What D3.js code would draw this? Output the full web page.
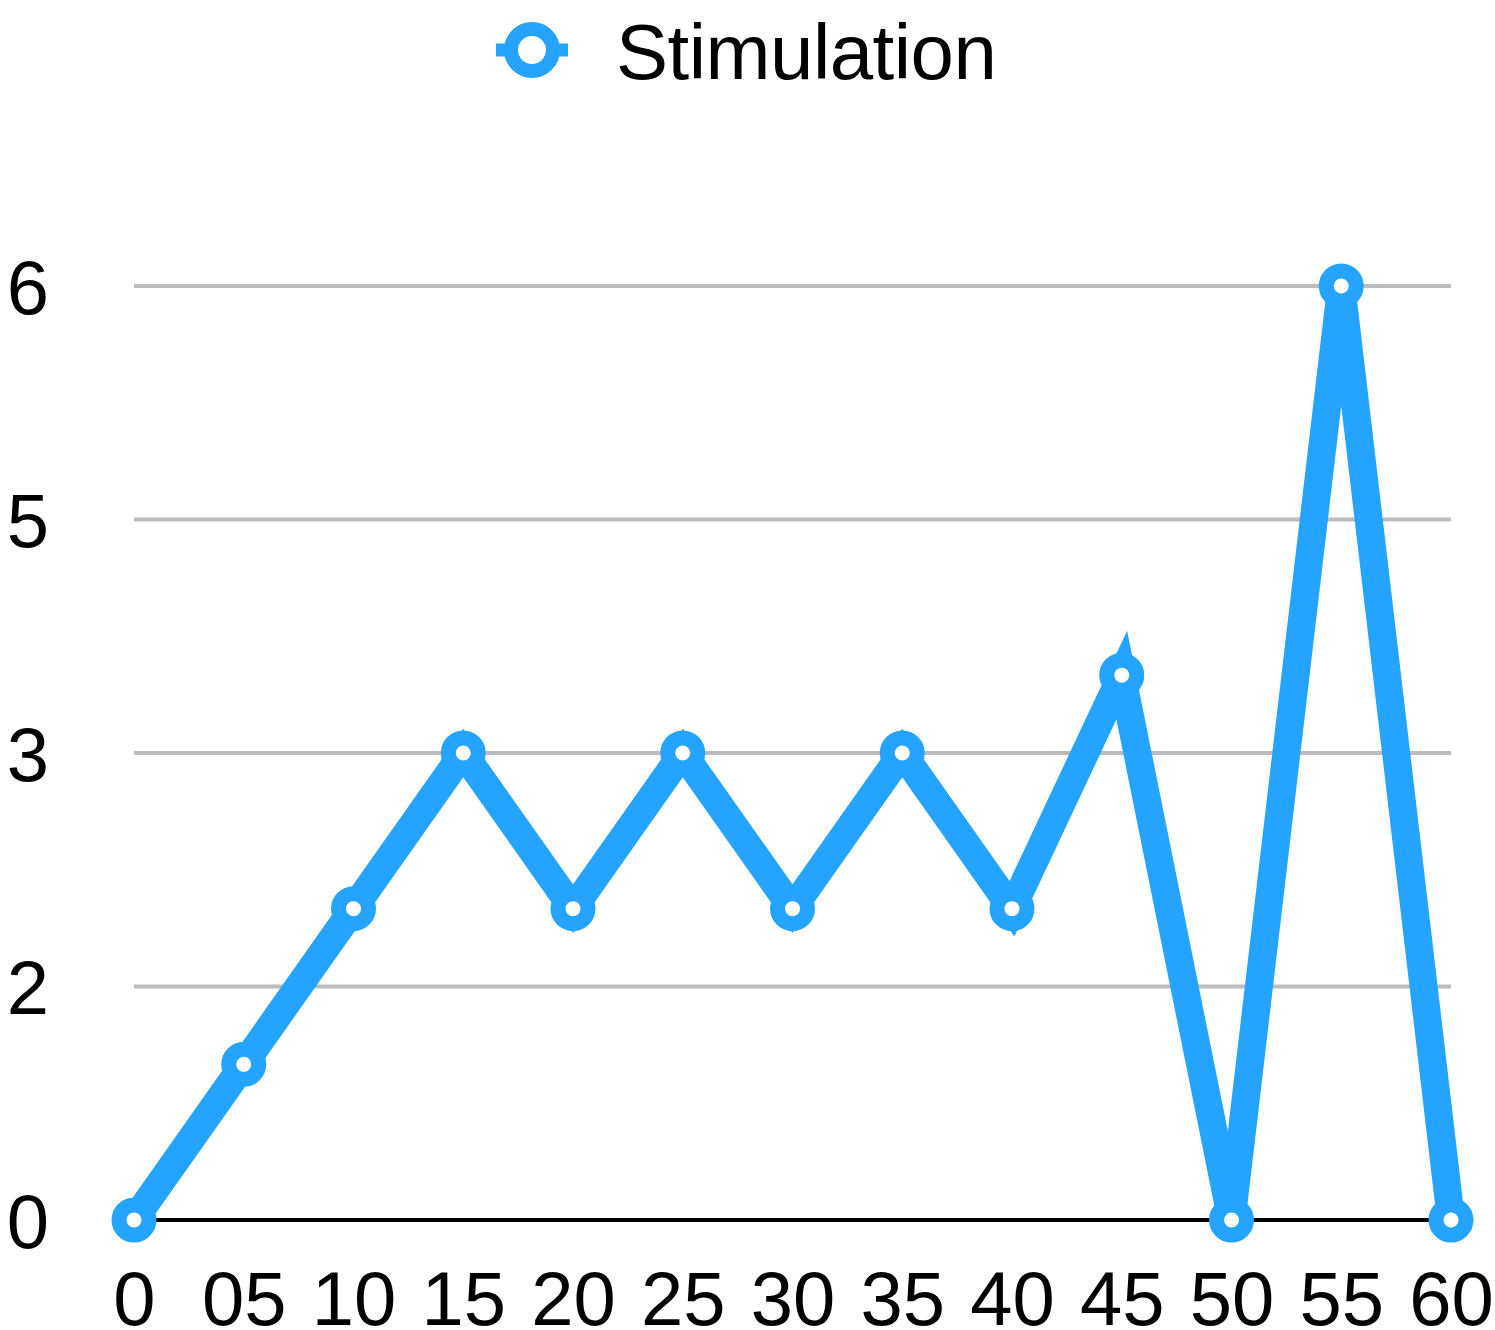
<!DOCTYPE html>
<html>
<head>
<meta charset="utf-8">
<script src="https://cdn.jsdelivr.net/npm/d3@7"></script>
<style>
  html, body { margin: 0; padding: 0; background: #fff; }
  svg { display: block; font-family: "Liberation Sans", Arial, Helvetica, sans-serif; }
</style>
</head>
<body>
<svg id="chart" width="1495" height="1330"></svg>
<script>
// Series data
const categories = ["0", "05", "10", "15", "20", "25", "30", "35", "40", "45", "50", "55", "60"];
const stimulation = [0, 1, 2, 3, 2, 3, 2, 3, 2, 3.5, 0, 6, 0];
const yTicks = [0, 1.5, 3, 4.5, 6];
const seriesName = "Stimulation";

const color = "#24A4FF";
const svg = d3.select("#chart");

const x = d3.scalePoint().domain(categories).range([134, 1451]);
const y = d3.scaleLinear().domain([0, 6]).range([1220, 286]);

// Horizontal gridlines (non-zero ticks)
svg.append("g")
  .selectAll("line")
  .data(yTicks.filter(d => d !== 0))
  .join("line")
  .attr("x1", 134).attr("x2", 1451)
  .attr("y1", d => y(d)).attr("y2", d => y(d))
  .attr("stroke", "#bcbcbc").attr("stroke-width", 4);

// Baseline
svg.append("line")
  .attr("x1", 134).attr("x2", 1451)
  .attr("y1", y(0)).attr("y2", y(0))
  .attr("stroke", "#000").attr("stroke-width", 4);

// Y axis labels
const yAxis = d3.axisLeft(y).tickValues(yTicks).tickFormat(d3.format(".0f")).tickSize(0).tickPadding(0);
svg.append("g")
  .attr("transform", "translate(49,0)")
  .call(yAxis)
  .call(g => g.select(".domain").remove())
  .call(g => g.selectAll("text")
    .attr("font-size", 76)
    .attr("font-family", "Liberation Sans, Arial, sans-serif")
    .attr("fill", "#000")
    .attr("dy", "0.36em"));

// X axis labels
const xAxis = d3.axisBottom(x).tickSize(0).tickPadding(0);
svg.append("g")
  .attr("transform", "translate(0,1325)")
  .call(xAxis)
  .call(g => g.select(".domain").remove())
  .call(g => g.selectAll("text")
    .attr("font-size", 76)
    .attr("font-family", "Liberation Sans, Arial, sans-serif")
    .attr("fill", "#000")
    .attr("dy", 0));

// Line
const line = d3.line()
  .x((d, i) => x(categories[i]))
  .y(d => y(d));

svg.append("path")
  .datum(stimulation)
  .attr("d", line)
  .attr("fill", "none")
  .attr("stroke", color)
  .attr("stroke-width", 28)
  .attr("stroke-linejoin", "miter")
  .attr("stroke-miterlimit", 4);

// Markers
svg.append("g")
  .selectAll("circle")
  .data(stimulation)
  .join("circle")
  .attr("cx", (d, i) => x(categories[i]))
  .attr("cy", d => y(d))
  .attr("r", 15)
  .attr("fill", "#fff")
  .attr("stroke", color)
  .attr("stroke-width", 15);

// Legend
const legend = svg.append("g").attr("transform", "translate(532,50)");
legend.append("line")
  .attr("x1", -36).attr("x2", 36)
  .attr("stroke", color).attr("stroke-width", 13);
legend.append("circle")
  .attr("r", 21)
  .attr("fill", "#fff")
  .attr("stroke", color)
  .attr("stroke-width", 14);
legend.append("text")
  .attr("x", 84)
  .attr("y", 29)
  .attr("font-size", 78)
  .attr("letter-spacing", -0.5)
  .attr("fill", "#000")
  .text(seriesName);
</script>
</body>
</html>
